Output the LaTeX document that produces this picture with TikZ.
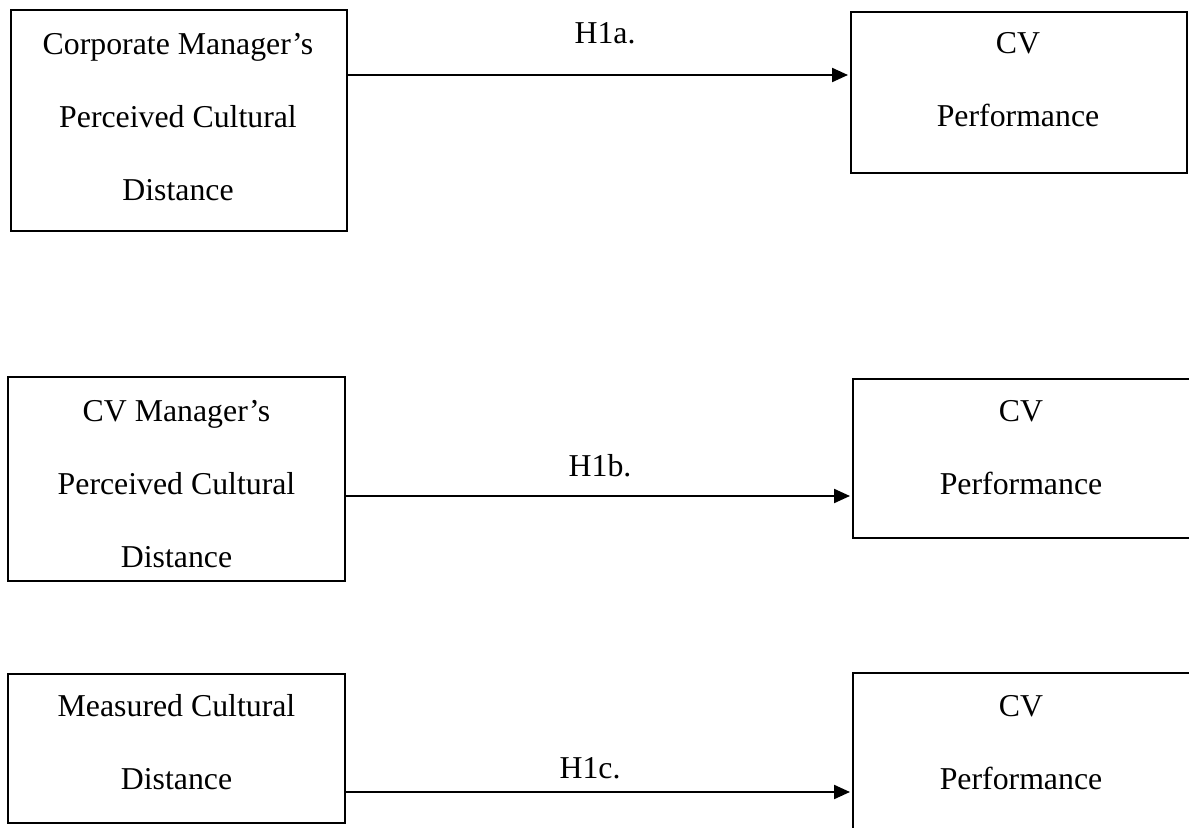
\documentclass[tikz,border=0pt]{standalone}
\usepackage{fontspec}
\setmainfont{Liberation Serif}
\usetikzlibrary{arrows.meta}
\begin{document}
\begin{tikzpicture}[x=0.5pt,y=-0.5pt,
  box/.style={draw=black,line width=1.1pt,rectangle,inner sep=0pt,outer sep=0pt},
  txt/.style={align=center,inner sep=0pt,font=\fontsize{15.9}{36.5}\selectfont},
  arr/.style={draw=black,line width=1.1pt,-{Triangle[length=8pt,width=7pt]},shorten >=1.5pt},
  lab/.style={inner sep=0pt,font=\fontsize{15.9}{19}\selectfont}]
\useasboundingbox (0,0) rectangle (1189,828);
% row 1
\node[box,minimum width=168pt,minimum height=110.5pt] (b1) at (179,120.5) {};
\node[txt] (t1) at (178,117) {Corporate Manager’s\\Perceived Cultural\\Distance};
\node[box,minimum width=168pt,minimum height=80.5pt] (r1) at (1019,92.5) {};
\node[txt] (u1) at (1018,80) {CV\\Performance};
\coordinate (y1) at (0,75);
\draw[arr] (b1.east |- y1) -- (r1.west |- y1);
\node[lab] (h1a) at (605,33) {H1a.};
% row 2
\node[box,minimum width=168.5pt,minimum height=102pt] (b2) at (176.5,479) {};
\node[txt] (t2) at (176.5,484) {CV Manager’s\\Perceived Cultural\\Distance};
\node[box,minimum width=171pt,minimum height=79.5pt] (r2) at (1024,458.5) {};
\node[txt] (u2) at (1021,448) {CV\\Performance};
\coordinate (y2) at (0,496);
\draw[arr] (b2.east |- y2) -- (r2.west |- y2);
\node[lab] (h1b) at (600,466) {H1b.};
% row 3
\node[box,minimum width=168.5pt,minimum height=74.5pt] (b3) at (176.5,748.5) {};
\node[txt] (t3) at (176.5,742) {Measured Cultural\\Distance};
\node[box,minimum width=171pt,minimum height=113.5pt] (r3) at (1024,786.5) {};
\node[txt] (u3) at (1021,743) {CV\\Performance};
\coordinate (y3) at (0,792);
\draw[arr] (b3.east |- y3) -- (r3.west |- y3);
\node[lab] (h1c) at (590,768) {H1c.};
\end{tikzpicture}
\end{document}
